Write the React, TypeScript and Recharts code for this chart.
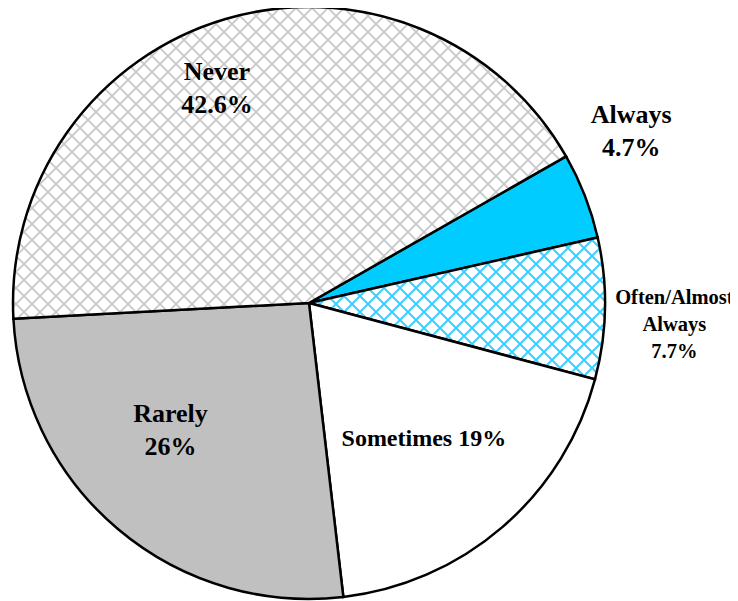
import React from "react";
import { PieChart, Pie, Cell } from "recharts";

// slices in clockwise order, starting at the Always/Never boundary
const categories = ["Always", "Often/Almost Always", "Sometimes", "Rarely", "Never"];
const shares = [4.7, 7.7, 19, 26, 42.6];
const labelLines = [
  ["Always", "4.7%"],
  ["Often/Almost", "Always", "7.7%"],
  ["Sometimes 19%"],
  ["Rarely", "26%"],
  ["Never", "42.6%"],
];

const fills = ["#00ccff", "url(#cyanHatch)", "#ffffff", "#c0c0c0", "url(#grayHatch)"];

// label placement relative to each slice's mid angle
const labelLayout: Record<string, { r: number; da: number; size: number; lh: number }> = {
  Always: { r: 365, da: 6.8, size: 26, lh: 33 },
  "Often/Almost Always": { r: 366, da: -2.3, size: 20.5, lh: 27 },
  Sometimes: { r: 177, da: -0.4, size: 24, lh: 30 },
  Rarely: { r: 188, da: -7.3, size: 26, lh: 33 },
  Never: { r: 234, da: 6.8, size: 26, lh: 33 },
};

const data = categories.map((name, i) => ({ name, value: shares[i], lines: labelLines[i] }));

const RAD = Math.PI / 180;

function renderLabel(props: any) {
  const { cx, cy, midAngle, index } = props;
  const entry = data[index];
  const lay = labelLayout[entry.name];
  const a = (midAngle + lay.da) * RAD;
  const x = cx + lay.r * Math.cos(a);
  const y = cy - lay.r * Math.sin(a);
  const n = entry.lines.length;
  const firstBaseline = y - ((n - 1) * lay.lh) / 2 + lay.size * 0.33;
  return (
    <text
      x={x}
      y={firstBaseline}
      textAnchor="middle"
      fontFamily="'Liberation Serif', 'Times New Roman', serif"
      fontWeight="bold"
      fontSize={lay.size}
      fill="#000"
    >
      {entry.lines.map((t, i) => (
        <tspan key={i} x={x} y={firstBaseline + i * lay.lh}>
          {t}
        </tspan>
      ))}
    </text>
  );
}

export default function App() {
  return (
    <div style={{ position: "relative", left: -8, top: -8, width: 738, height: 601 }}>
      <PieChart width={738} height={601} margin={{ top: 0, right: 0, bottom: 0, left: 0 }}>
        <defs>
          <pattern id="grayHatch" patternUnits="userSpaceOnUse" width={16} height={16}>
            <rect width={16} height={16} fill="#ffffff" />
            <path d="M0,0 L16,16 M16,0 L0,16" stroke="#c6c6c6" strokeWidth={1.6} />
          </pattern>
          <pattern id="cyanHatch" patternUnits="userSpaceOnUse" width={16} height={16}>
            <rect width={16} height={16} fill="#ffffff" />
            <path d="M0,0 L16,16 M16,0 L0,16" stroke="#3cd0ff" strokeWidth={2} />
          </pattern>
        </defs>
        <Pie
          data={data}
          dataKey="value"
          nameKey="name"
          cx={309}
          cy={303}
          outerRadius={296}
          startAngle={29.7}
          endAngle={29.7 - 360}
          stroke="#000"
          strokeWidth={2.5}
          label={renderLabel}
          labelLine={false}
          isAnimationActive={false}
        >
          {data.map((d, i) => (
            <Cell key={d.name} fill={fills[i]} />
          ))}
        </Pie>
      </PieChart>
    </div>
  );
}
